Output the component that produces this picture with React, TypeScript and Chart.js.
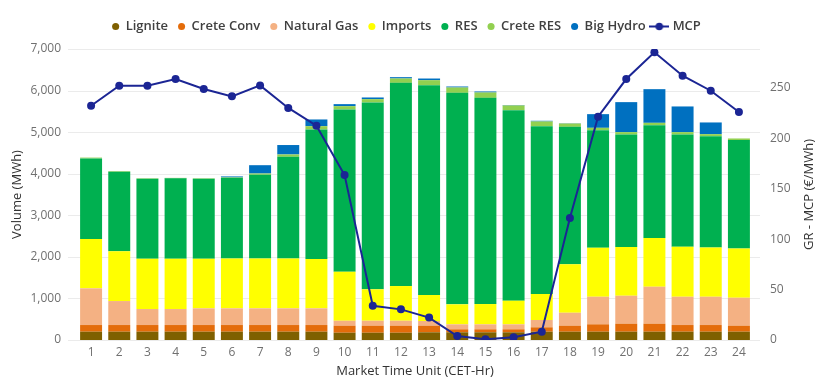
import React, { useEffect, useRef } from 'react';
import { Chart, registerables } from 'chart.js';
Chart.register(...registerables);

const hours = ['1','2','3','4','5','6','7','8','9','10','11','12','13','14','15','16','17','18','19','20','21','22','23','24'];
const lignite =    [200,200,200,200,200,200,200,200,200,175,175,175,185,185,185,185,200,200,200,200,200,200,200,200];
const creteConv =  [160,160,160,160,160,160,160,160,160,169,169,169,159,72,72,72,105,144,177,192,192,160,160,144];
const naturalGas = [883,577,385,385,402,402,402,402,402,120,120,120,113,120,120,120,176,312,664,673,890,681,681,673];
const imports =    [1185,1195,1210,1210,1193,1201,1201,1201,1185,1178,755,834,625,481,488,568,625,1164,1178,1171,1170,1202,1187,1187];
const res =        [1940,1914,1923,1933,1925,1940,2012,2444,3118,3904,4495,4888,5048,5088,4960,4584,4038,3308,2829,2708,2716,2701,2676,2604];
const creteRes =   [20,15,12,12,12,10,30,56,79,79,80,105,120,128,129,113,113,80,56,56,56,56,48,40];
const bigHydro =   [0,0,0,0,0,22,200,227,161,49,40,32,40,24,24,10,16,7,329,722,810,618,281,0];
const mcp =        [232.4,252.3,252.3,258.9,249,241.7,252.6,230.2,212.6,163.7,34,30.4,22.2,4,0.7,2.7,8.3,121,221.6,258.9,285.4,262.2,247.3,226.2];

const seriesNames = ['Lignite','Crete Conv','Natural Gas','Imports','RES','Crete RES','Big Hydro'];
const seriesColors = ['#7F6000','#E46C0A','#F4B183','#FFFF00','#00B050','#92D050','#0070C0'];
const mcpName = 'MCP';
const mcpColor = '#1B2594';
const leftTitle = 'Volume (MWh)';
const rightTitle = 'GR - MCP (€/MWh)';
const xTitle = 'Market Time Unit (CET-Hr)';

const FONT = "'Open Sans', 'Noto Sans', sans-serif";

export default function App() {
  const ref = useRef<HTMLCanvasElement>(null);
  useEffect(() => {
    if (!ref.current) return;
    const img = document.createElement('canvas');
    img.width = 20; img.height = 9;
    const ic = img.getContext('2d')!;
    ic.strokeStyle = mcpColor; ic.lineWidth = 2;
    ic.beginPath(); ic.moveTo(0, 4.5); ic.lineTo(20, 4.5); ic.stroke();
    ic.fillStyle = mcpColor; ic.beginPath(); ic.arc(10, 4.5, 3.8, 0, Math.PI * 2); ic.fill();

    const values = [lignite, creteConv, naturalGas, imports, res, creteRes, bigHydro];
    const barSets = values.map((d, i) => ({
      type: 'bar' as const,
      label: seriesNames[i],
      data: d,
      backgroundColor: seriesColors[i],
      borderWidth: 0,
      stack: 's',
      yAxisID: 'y',
      order: 1,
      categoryPercentage: 1,
      barPercentage: 0.78,
    }));

    const gridPlugin = {
      id: 'extGrid',
      beforeDatasetsDraw(chart: any) {
        const y = chart.scales.y;
        const { left, right } = chart.chartArea;
        const ctx = chart.ctx;
        ctx.save();
        ctx.strokeStyle = '#ebebeb';
        ctx.lineWidth = 1;
        y.ticks.forEach((t: any) => {
          const py = Math.round(y.getPixelForValue(t.value)) + 0.5;
          ctx.beginPath(); ctx.moveTo(left - 9, py); ctx.lineTo(right + 7, py); ctx.stroke();
        });
        ctx.restore();
      },
      afterDraw(chart: any) {
        const ctx = chart.ctx;
        const { top, bottom } = chart.chartArea;
        ctx.save();
        ctx.translate(809, (top + bottom) / 2);
        ctx.rotate(-Math.PI / 2);
        ctx.fillStyle = '#333333';
        ctx.font = `13px ${FONT}`;
        ctx.textAlign = 'center';
        ctx.textBaseline = 'middle';
        ctx.fillText(rightTitle, 0, 0);
        ctx.restore();
      },
    };
    const legendPlugin = {
      id: 'legendH',
      beforeInit(chart: any) {
        const lg = chart.legend;
        if (!lg) return;
        const orig = lg.fit;
        lg.fit = function () { orig.call(this); this.height = 39; };
        const origDraw = lg.draw;
        lg.draw = function () {
          const ctx = this.ctx;
          ctx.save();
          ctx.translate(-9, 0);
          origDraw.call(this);
          ctx.restore();
        };
      },
    };

    const chart = new Chart(ref.current, {
      type: 'bar',
      data: {
        labels: hours,
        datasets: [
          ...barSets,
          {
            type: 'line' as const,
            label: mcpName,
            data: mcp,
            borderColor: mcpColor,
            backgroundColor: mcpColor,
            borderWidth: 2,
            pointRadius: 4,
            pointBackgroundColor: mcpColor,
            pointBorderWidth: 0,
            tension: 0,
            yAxisID: 'y1',
            order: 0,
          } as any,
        ],
      },
      options: {
        responsive: false,
        animation: false,
        layout: { padding: { top: 10, left: 0, right: 0, bottom: 0 } },
        plugins: {
          legend: {
            display: true,
            position: 'top',
            labels: {
              usePointStyle: true,
              boxHeight: 5,
              boxWidth: 7,
              padding: 10,
              color: '#404040',
              font: { family: FONT, size: 13, weight: '600' },
              generateLabels: (chart: any) => {
                const items = chart.data.datasets.map((ds: any, i: number) => ({
                  text: i === 7 ? ' ' + ds.label : ds.label,
                  fillStyle: i === 7 ? mcpColor : ds.backgroundColor,
                  strokeStyle: i === 7 ? mcpColor : ds.backgroundColor,
                  fontColor: '#404040',
                  lineWidth: 0,
                  pointStyle: i === 7 ? img : 'circle',
                  hidden: false,
                  datasetIndex: i,
                }));
                return items;
              },
            },
          },
          tooltip: { enabled: false },
        },
        scales: {
          x: {
            stacked: true,
            grid: { display: false, drawTicks: false },
            border: { display: false },
            ticks: { color: '#707070', font: { family: FONT, size: 12 }, padding: 5, maxRotation: 0 },
            title: { display: true, text: xTitle, color: '#333333', font: { family: FONT, size: 13 }, padding: { top: 0, bottom: 4 } },
            afterFit: (s: any) => { s.height = 43; },
          },
          y: {
            stacked: true,
            position: 'left',
            min: 0,
            max: 7000,
            grid: { display: false, drawTicks: false },
            border: { display: false },
            ticks: {
              stepSize: 1000,
              color: '#707070',
              font: { family: FONT, size: 12 },
              padding: 16,
              callback: (v: any) => Number(v).toLocaleString('en-US'),
            },
            title: { display: true, text: leftTitle, color: '#333333', font: { family: FONT, size: 13 }, padding: { top: 9, bottom: 0 } },
            afterFit: (s: any) => { s.width = 77; },
          },
          y1: {
            position: 'right',
            min: 0,
            max: 288.7,
            grid: { display: false, drawTicks: false },
            border: { display: false },
            ticks: { stepSize: 50, color: '#707070', font: { family: FONT, size: 12 }, padding: 17 },
            afterBuildTicks: (s: any) => { s.ticks = s.ticks.filter((t: any) => t.value % 50 === 0); },
            afterFit: (s: any) => { s.width = 78; },
          },
        },
      },
      plugins: [gridPlugin, legendPlugin],
    } as any);
    return () => chart.destroy();
  }, []);
  return (
    <div style={{ position: 'fixed', left: 0, top: 0, width: 831, height: 383, background: '#fff' }}>
      <canvas ref={ref} width={831} height={383} style={{ width: 831, height: 383 }} />
    </div>
  );
}
